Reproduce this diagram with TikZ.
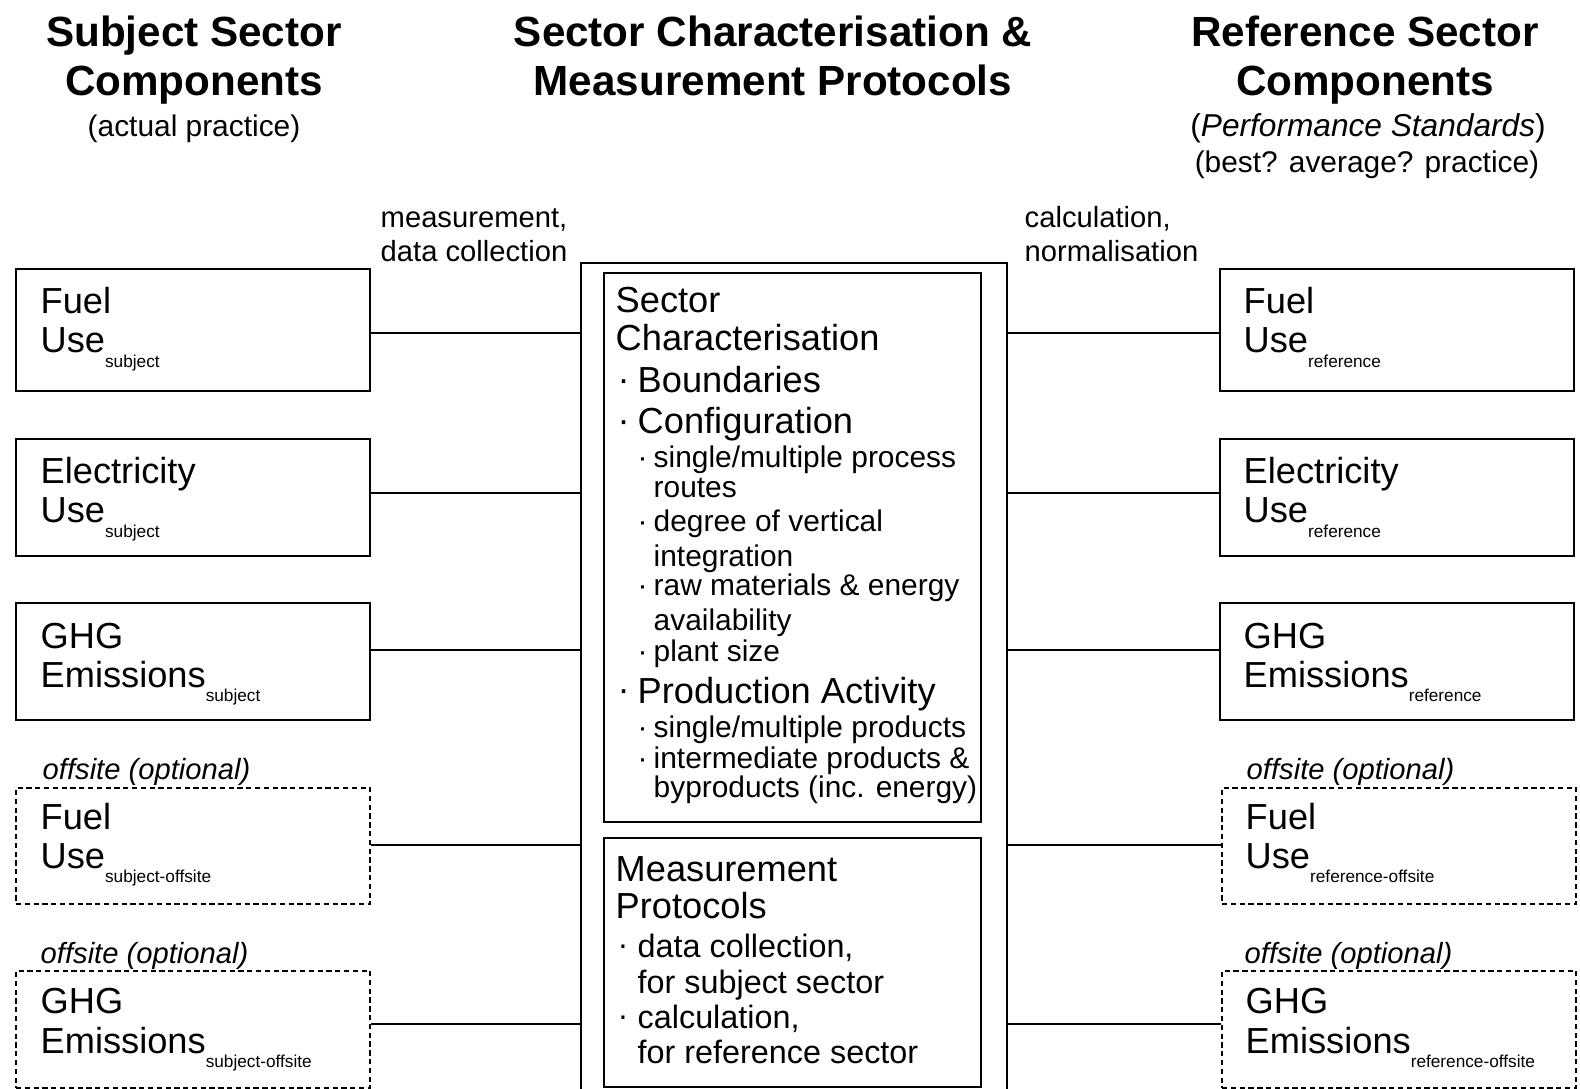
\documentclass[tikz,border=0pt]{standalone}
\usepackage{fontspec}
\setmainfont{Liberation Sans}
\newcommand\MyBig{\fontsize{10.3}{12}\selectfont}
\newcommand\MySubs{\fontsize{4.9}{6}\selectfont}
\newcommand\MySmall{\fontsize{8.5}{10}\selectfont}
\newcommand\MyMeas{\fontsize{9.2}{11}\selectfont}
\newcommand\MyTitle{\fontsize{12}{14}\selectfont\bfseries}
\newcommand\MyLab{\fontsize{8.3}{10}\selectfont}
\newcommand\MySubt{\fontsize{8.5}{10}\selectfont}
\newcommand\Lsub[1]{\raisebox{-4pt}{\MySubs #1}}
\newcommand\Bul{\makebox[0.2cm][l]{\raisebox{0.3pt}{·}}}
\newcommand\SBul{\makebox[0.16cm][l]{·}}
\begin{document}
\begin{tikzpicture}[x=0.01cm,y=-0.01cm,
  box/.style={draw, line width=0.6pt, inner sep=0pt, anchor=north west},
  optbox/.style={box, dash pattern=on 1.5pt off 1pt},
  conn/.style={draw, line width=0.6pt},
  txt/.style={anchor=base west, inner sep=0pt, font=\MyBig},
  stxt/.style={anchor=base west, inner sep=0pt, font=\MySmall},
  mtxt/.style={anchor=base west, inner sep=0pt, font=\MyMeas},
  lab/.style={anchor=base west, inner sep=0pt, font=\MyLab},
  opt/.style={anchor=base west, inner sep=0pt, font=\MyLab\itshape},
  ttl/.style={anchor=base, inner sep=0pt, font=\MyTitle},
  subt/.style={anchor=base, inner sep=0pt, font=\MySubt}
]
\useasboundingbox (0,0) rectangle (1580,1089);

% titles
\node[ttl] (t1) at (194,47) {Subject Sector};
\node[ttl] (t2) at (194,96) {Components};
\node[subt] (t3) at (194,137) {(actual practice)};
\node[ttl] (t4) at (773,47) {Sector Characterisation \&};
\node[ttl] (t5) at (773,96) {Measurement Protocols};
\node[ttl] (t6) at (1365,47) {Reference Sector};
\node[ttl] (t7) at (1365,96) {Components};
\node[subt, font=\fontsize{9}{11}\selectfont] (t8) at (1368,137) {(\textit{Performance Standards})};
\node[subt] (t9) at (1367,173) {(best? average? practice)};

% connector labels
\node[lab] (m1) at (380,228) {measurement,};
\node[lab] (m2) at (380,262) {data collection};
\node[lab] (c1) at (1024,228) {calculation,};
\node[lab] (c2) at (1024,262) {normalisation};

% central boxes
\node[box, minimum width=4.26cm, minimum height=8.5cm] (O) at (580,262) {};
\node[box, minimum width=3.77cm, minimum height=5.49cm] (SC) at (603,272) {};
\node[box, minimum width=3.77cm, minimum height=2.49cm] (MP) at (603,837) {};

% left boxes
\node[box, minimum width=3.54cm, minimum height=1.22cm] (L1) at (15,268) {};
\node[box, minimum width=3.54cm, minimum height=1.17cm] (L2) at (15,438) {};
\node[box, minimum width=3.54cm, minimum height=1.17cm] (L3) at (15,602) {};
\node[optbox, minimum width=3.54cm, minimum height=1.16cm] (L4) at (15,787) {};
\node[optbox, minimum width=3.54cm, minimum height=1.17cm] (L5) at (15,970) {};

% right boxes
\node[box, minimum width=3.54cm, minimum height=1.22cm] (R1) at (1219,268) {};
\node[box, minimum width=3.54cm, minimum height=1.17cm] (R2) at (1219,438) {};
\node[box, minimum width=3.54cm, minimum height=1.17cm] (R3) at (1219,602) {};
\node[optbox, minimum width=3.54cm, minimum height=1.16cm] (R4) at (1221,787) {};
\node[optbox, minimum width=3.54cm, minimum height=1.17cm] (R5) at (1221,970) {};

% connectors
\draw[conn] (L1.east |- 0,333) -- (O.west |- 0,333);
\draw[conn] (L2.east |- 0,493) -- (O.west |- 0,493);
\draw[conn] (L3.east |- 0,650) -- (O.west |- 0,650);
\draw[conn] (L4.east |- 0,845) -- (O.west |- 0,845);
\draw[conn] (L5.east |- 0,1024) -- (O.west |- 0,1024);
\draw[conn] (O.east |- 0,333) -- (R1.west |- 0,333);
\draw[conn] (O.east |- 0,493) -- (R2.west |- 0,493);
\draw[conn] (O.east |- 0,650) -- (R3.west |- 0,650);
\draw[conn] (O.east |- 0,845) -- (R4.west |- 0,845);
\draw[conn] (O.east |- 0,1024) -- (R5.west |- 0,1024);

% left texts
\node[txt] (l1a) at (40,314) {Fuel};
\node[txt] (l1b) at (40,353) {Use\Lsub{subject}};
\node[txt] (l2a) at (40,484) {Electricity};
\node[txt] (l2b) at (40,523) {Use\Lsub{subject}};
\node[txt] (l3a) at (40,648) {GHG};
\node[txt] (l3b) at (40,687) {Emissions\Lsub{subject}};
\node[opt] (l4o) at (42,779) {offsite (optional)};
\node[txt] (l4a) at (40,829) {Fuel};
\node[txt] (l4b) at (40,868) {Use\Lsub{subject-offsite}};
\node[opt] (l5o) at (40,963) {offsite (optional)};
\node[txt] (l5a) at (40,1013) {GHG};
\node[txt] (l5b) at (40,1053) {Emissions\Lsub{subject-offsite}};

% right texts
\node[txt] (r1a) at (1243,314) {Fuel};
\node[txt] (r1b) at (1243,353) {Use\Lsub{reference}};
\node[txt] (r2a) at (1243,484) {Electricity};
\node[txt] (r2b) at (1243,523) {Use\Lsub{reference}};
\node[txt] (r3a) at (1243,648) {GHG};
\node[txt] (r3b) at (1243,687) {Emissions\Lsub{reference}};
\node[opt] (r4o) at (1246,779) {offsite (optional)};
\node[txt] (r4a) at (1245,829) {Fuel};
\node[txt] (r4b) at (1245,868) {Use\Lsub{reference-offsite}};
\node[opt] (r5o) at (1244,963) {offsite (optional)};
\node[txt] (r5a) at (1245,1013) {GHG};
\node[txt] (r5b) at (1245,1053) {Emissions\Lsub{reference-offsite}};

% sector characterisation text
\node[txt] (s1) at (615,313) {Sector};
\node[txt] (s2) at (615,351) {Characterisation};
\node[txt] (s3) at (617,393) {\Bul Boundaries};
\node[txt] (s4) at (617,434) {\Bul Configuration};
\node[stxt] (s5) at (637,468) {\SBul single/multiple process};
\node[stxt] (s6) at (653,498) {routes};
\node[stxt] (s7) at (637,532) {\SBul degree of vertical};
\node[stxt] (s8) at (653,567) {integration};
\node[stxt] (s9) at (637,595) {\SBul raw materials \& energy};
\node[stxt] (s10) at (653,630) {availability};
\node[stxt] (s11) at (637,661) {\SBul plant size};
\node[txt] (s12) at (617,703) {\Bul Production Activity};
\node[stxt] (s13) at (637,737) {\SBul single/multiple products};
\node[stxt] (s14) at (637,768) {\SBul intermediate products \&};
\node[stxt] (s15) at (653,797) {byproducts (inc. energy)};

% measurement protocols text
\node[txt] (p1) at (615,881) {Measurement};
\node[txt] (p2) at (615,918) {Protocols};
\node[mtxt] (p3) at (617,957) {\Bul data collection,};
\node[mtxt] (p4) at (637,993) {for subject sector};
\node[mtxt] (p5) at (617,1028) {\Bul calculation,};
\node[mtxt] (p6) at (637,1063) {for reference sector};
\end{tikzpicture}
\end{document}
